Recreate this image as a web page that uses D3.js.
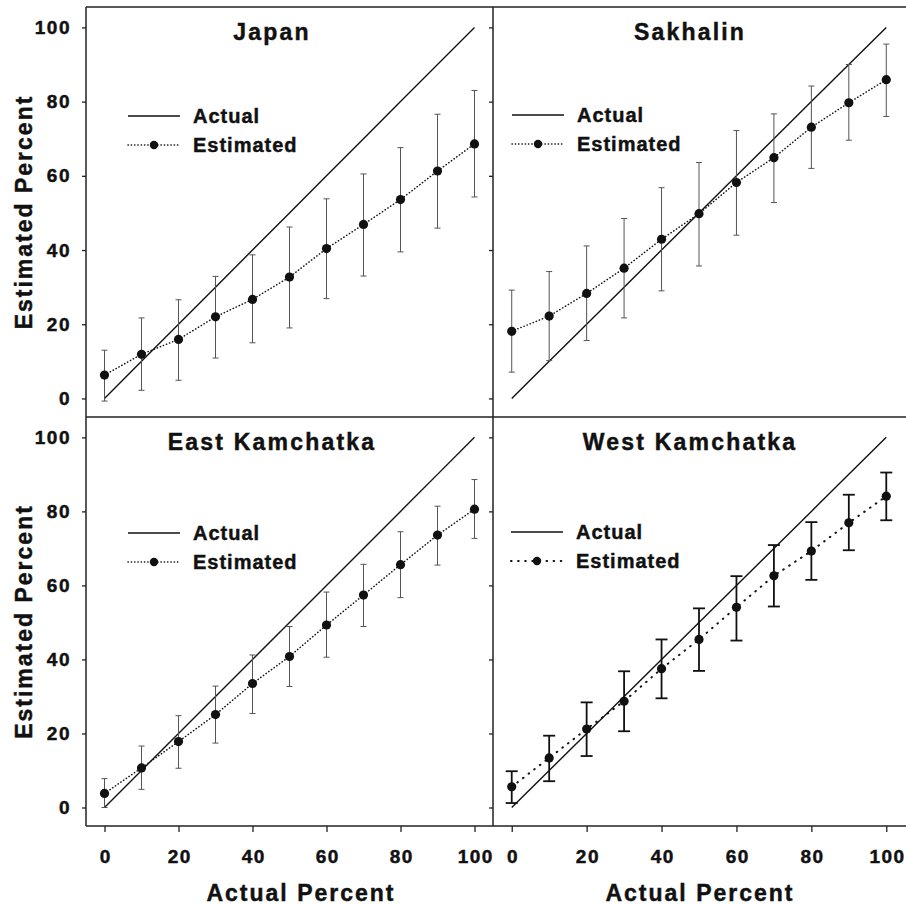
<!DOCTYPE html>
<html>
<head>
<meta charset="utf-8">
<script src="https://cdn.jsdelivr.net/npm/d3@7"></script>
<style>
  html, body { margin: 0; padding: 0; background: #fff; }
  svg { display: block; }
  text { font-family: "Liberation Sans", Arial, Helvetica, sans-serif; font-weight: bold; fill: #111; stroke: #111; stroke-width: 0.45px; }
</style>
</head>
<body>
<svg id="chart" width="906" height="905"></svg>
<script>
// ---------------- DATA ----------------
const actualPercent = [0, 10, 20, 30, 40, 50, 60, 70, 80, 90, 100];
const tickValues = [0, 20, 40, 60, 80, 100];
const panelNames = ["Japan", "Sakhalin", "East Kamchatka", "West Kamchatka"];
const legendLabels = ["Actual", "Estimated"];
const xAxisTitle = "Actual Percent";
const yAxisTitle = "Estimated Percent";

const japanEst  = [6.3, 11.9, 15.9, 22.0, 26.7, 32.7, 40.4, 46.9, 53.6, 61.3, 68.6];
const japanLow  = [-0.7, 2.2, 4.9, 10.9, 15.0, 19.0, 26.9, 33.0, 39.5, 45.9, 54.3];
const japanHigh = [13.0, 21.7, 26.6, 32.9, 38.7, 46.2, 53.8, 60.5, 67.6, 76.6, 83.0];

const sakhalinEst  = [18.1, 22.2, 28.3, 35.1, 42.9, 49.8, 58.2, 64.9, 73.1, 79.7, 85.9];
const sakhalinLow  = [7.1, 10.2, 15.6, 21.7, 29.0, 35.7, 44.0, 52.8, 62.0, 69.6, 76.0];
const sakhalinHigh = [29.2, 34.2, 41.1, 48.5, 56.8, 63.6, 72.2, 76.7, 84.2, 90.0, 95.5];

const eastKamEst  = [3.8, 10.7, 17.8, 25.1, 33.5, 40.8, 49.3, 57.4, 65.6, 73.6, 80.6];
const eastKamLow  = [0.0, 4.9, 10.6, 17.4, 25.4, 32.7, 40.6, 48.9, 56.7, 65.5, 72.7];
const eastKamHigh = [7.8, 16.6, 24.8, 32.8, 41.2, 48.9, 58.2, 65.7, 74.5, 81.4, 88.6];

const westKamEst  = [5.6, 13.4, 21.2, 28.7, 37.5, 45.4, 54.1, 62.6, 69.3, 76.9, 84.1];
const westKamLow  = [1.2, 7.1, 13.9, 20.6, 29.5, 36.9, 45.1, 54.3, 61.5, 69.5, 77.6];
const westKamHigh = [9.8, 19.4, 28.4, 36.8, 45.4, 53.8, 62.5, 70.9, 77.1, 84.5, 90.5];

// ---------------- LAYOUT ----------------
const colEdges = [86, 493, 905];
const rowEdges = [7, 417, 826];
const xDomain = [-5, 105];
const yDomain = [-5, 105.5];

const estSeries = [japanEst, sakhalinEst, eastKamEst, westKamEst];
const lowSeries = [japanLow, sakhalinLow, eastKamLow, westKamLow];
const highSeries = [japanHigh, sakhalinHigh, eastKamHigh, westKamHigh];

// per-panel styles/positions
const styles = [
  { titleDx: 186, legDx: 42, legDy: 109, dash: "0.3,3", dotW: 1.5, errW: 1, errColor: "#555", cap: 3 },
  { titleDx: 197, legDx: 19, legDy: 108, dash: "0.3,3", dotW: 1.5, errW: 1, errColor: "#555", cap: 3 },
  { titleDx: 186, legDx: 42, legDy: 116, dash: "0.3,3", dotW: 1.5, errW: 1, errColor: "#555", cap: 3 },
  { titleDx: 197, legDx: 18, legDy: 115, dash: "0.6,6.5", dotW: 2, errW: 1.8, errColor: "#111", cap: 6 }
];

const svg = d3.select("#chart");

panelNames.forEach((name, i) => {
  const col = i % 2, row = Math.floor(i / 2);
  const x0 = colEdges[col], x1 = colEdges[col + 1];
  const y0 = rowEdges[row], y1 = rowEdges[row + 1];
  const st = styles[i];
  const x = d3.scaleLinear().domain(xDomain).range([x0, x1]);
  const y = d3.scaleLinear().domain(yDomain).range([y1, y0]);
  const g = svg.append("g");

  const pts = actualPercent.map((a, k) => ({ a, e: estSeries[i][k], lo: lowSeries[i][k], hi: highSeries[i][k] }));

  // y axis ticks
  const yAxis = d3.axisLeft(y).tickValues(tickValues).tickSize(4).tickPadding(11)
    .tickFormat(col === 0 ? d3.format("d") : () => "");
  const ya = g.append("g").attr("transform", `translate(${x0},0)`).call(yAxis);
  ya.select(".domain").remove();
  ya.selectAll("line").attr("stroke", "#222").attr("stroke-width", 1.3);
  ya.selectAll("text").style("font-size", "19px").style("letter-spacing", "1.5px").attr("fill", "#111");

  if (row === 1) {
    const xAxis = d3.axisBottom(x).tickValues(tickValues).tickSize(6).tickPadding(18).tickFormat(d3.format("d"));
    const xa = g.append("g").attr("transform", `translate(0,${y1})`).call(xAxis);
    xa.select(".domain").remove();
    xa.selectAll("line").attr("stroke", "#222").attr("stroke-width", 1.3);
    xa.selectAll("text").style("font-size", "19px").style("letter-spacing", "1.5px").attr("fill", "#111")
      .attr("dx", "0.75px");
  }

  // actual line
  const line = d3.line().x(d => x(d[0])).y(d => y(d[1]));
  g.append("path")
    .datum(actualPercent.map(a => [a, a]))
    .attr("d", line).attr("fill", "none").attr("stroke", "#111").attr("stroke-width", 1.4);

  // estimated dotted line
  g.append("path")
    .datum(pts.map(p => [p.a, p.e]))
    .attr("d", line).attr("fill", "none").attr("stroke", "#111")
    .attr("stroke-width", st.dotW).attr("stroke-linecap", "round").attr("stroke-dasharray", st.dash);

  // error bars
  const eb = g.append("g").attr("stroke", st.errColor).attr("stroke-width", st.errW).attr("fill", "none");
  pts.forEach(p => {
    eb.append("line").attr("x1", x(p.a)).attr("x2", x(p.a)).attr("y1", y(p.lo)).attr("y2", y(p.hi));
    eb.append("line").attr("x1", x(p.a) - st.cap).attr("x2", x(p.a) + st.cap).attr("y1", y(p.lo)).attr("y2", y(p.lo));
    eb.append("line").attr("x1", x(p.a) - st.cap).attr("x2", x(p.a) + st.cap).attr("y1", y(p.hi)).attr("y2", y(p.hi));
  });

  // points
  g.selectAll("circle.pt").data(pts).enter().append("circle")
    .attr("class", "pt").attr("cx", p => x(p.a)).attr("cy", p => y(p.e)).attr("r", 4.6).attr("fill", "#111");

  // title
  g.append("text").attr("x", x0 + st.titleDx).attr("y", y0 + 33)
    .attr("text-anchor", "middle").style("font-size", "23px").style("letter-spacing", "2.2px").text(name);

  // legend
  const lx = x0 + st.legDx, ly = y0 + st.legDy, len = 52;
  g.append("line").attr("x1", lx).attr("x2", lx + len).attr("y1", ly).attr("y2", ly)
    .attr("stroke", "#111").attr("stroke-width", 1.4);
  g.append("line").attr("x1", lx).attr("x2", lx + len).attr("y1", ly + 29).attr("y2", ly + 29)
    .attr("stroke", "#111").attr("stroke-width", st.dotW).attr("stroke-linecap", "round").attr("stroke-dasharray", st.dash);
  g.append("circle").attr("cx", lx + len / 2).attr("cy", ly + 29).attr("r", 4.2).attr("fill", "#111");
  g.append("text").attr("x", lx + 65).attr("y", ly + 7).style("font-size", "20px").style("letter-spacing", "1px").text(legendLabels[0]);
  g.append("text").attr("x", lx + 65).attr("y", ly + 36).style("font-size", "20px").style("letter-spacing", "1px").text(legendLabels[1]);

  // axis titles
  if (col === 0) {
    svg.append("text").attr("transform", `translate(32,${(y0 + y1) / 2}) rotate(-90)`)
      .attr("text-anchor", "middle").style("font-size", "23px").style("letter-spacing", "2px").text(yAxisTitle);
  }
  if (row === 1) {
    const cx = col === 0 ? 301 : 700;
    svg.append("text").attr("x", cx).attr("y", 901)
      .attr("text-anchor", "middle").style("font-size", "23px").style("letter-spacing", "2px").text(xAxisTitle);
  }
});

// frame lines
const frame = svg.append("g").attr("stroke", "#222").attr("stroke-width", 1.5);
frame.append("line").attr("x1", colEdges[0]).attr("x2", 906).attr("y1", rowEdges[0]).attr("y2", rowEdges[0]);
frame.append("line").attr("x1", colEdges[0]).attr("x2", 906).attr("y1", rowEdges[1]).attr("y2", rowEdges[1]);
frame.append("line").attr("x1", colEdges[0]).attr("x2", 906).attr("y1", rowEdges[2]).attr("y2", rowEdges[2]);
frame.append("line").attr("x1", colEdges[0]).attr("x2", colEdges[0]).attr("y1", rowEdges[0]).attr("y2", rowEdges[2]);
frame.append("line").attr("x1", colEdges[1]).attr("x2", colEdges[1]).attr("y1", rowEdges[0]).attr("y2", rowEdges[2]);
</script>
</body>
</html>
